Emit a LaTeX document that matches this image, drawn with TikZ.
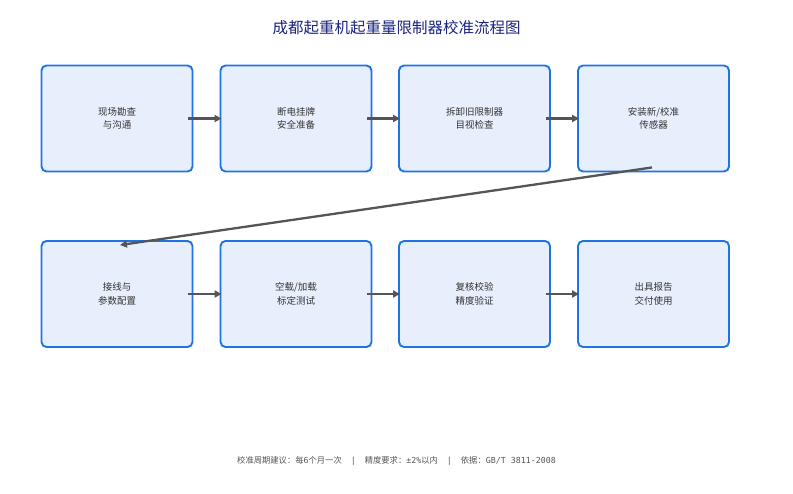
\documentclass[tikz,border=0pt]{standalone}
\usepackage{fontspec}
\setmainfont{Noto Sans CJK SC}
\newfontfamily\monofnt{DejaVu Sans Mono}
\usetikzlibrary{arrows.meta}
\definecolor{boxfill}{HTML}{E8EFFC}
\definecolor{boxdraw}{HTML}{1E74E2}
\definecolor{arrowc}{HTML}{555555}
\definecolor{titlec}{HTML}{1A237E}
\definecolor{textc}{HTML}{333333}
\definecolor{footc}{HTML}{555555}
\tikzset{
  stepbox/.style={draw=boxdraw, fill=boxfill, line width=1.9pt, rounded corners=5pt,
    minimum width=151pt, minimum height=106pt, inner sep=0pt, align=center,
    font=\fontsize{9.5pt}{13.5pt}\selectfont, text=textc},
  flow/.style={draw=arrowc, line width=2.3pt, -{Triangle[length=7pt,width=7pt]}}
}
\begin{document}
\begin{tikzpicture}[x=1pt,y=-1pt]
\useasboundingbox (0,0) rectangle (793,493);
\node[font=\fontsize{15.5pt}{17pt}\selectfont, text=titlec] (title) at (396.5,28) {成都起重机起重量限制器校准流程图};
\node[stepbox] (s1) at (117,118.5) {现场勘查\\与沟通};
\node[stepbox] (s2) at (296,118.5) {断电挂牌\\安全准备};
\node[stepbox] (s3) at (474.5,118.5) {拆卸旧限制器\\目视检查};
\node[stepbox] (s4) at (653.5,118.5) {安装新/校准\\传感器};
\node[stepbox] (s5) at (117,294) {接线与\\参数配置};
\node[stepbox] (s6) at (296,294) {空载/加载\\标定测试};
\node[stepbox] (s7) at (474.5,294) {复核校验\\精度验证};
\node[stepbox] (s8) at (653.5,294) {出具报告\\交付使用};
\foreach \a/\b in {s1/s2,s2/s3,s3/s4,s5/s6,s6/s7,s7/s8}{
  \draw[flow] ([xshift=-5pt]\a.east) -- ([xshift=2pt]\b.west);
}
\draw[flow] ([xshift=-1.5pt,yshift=5pt]s4.south) -- ([xshift=3pt,yshift=-5pt]s5.north);
\node[font=\fontsize{8.3pt}{10pt}\selectfont, text=footc] (foot) at (396.5,461)
 {校准周期建议：每{\monofnt 6}个月一次\hspace{9pt}{\monofnt |}\hspace{9pt}精度要求：{\monofnt ±2\%}以内\hspace{9pt}{\monofnt |}\hspace{9pt}依据：{\monofnt GB/T 3811-2008}};
\end{tikzpicture}
\end{document}
